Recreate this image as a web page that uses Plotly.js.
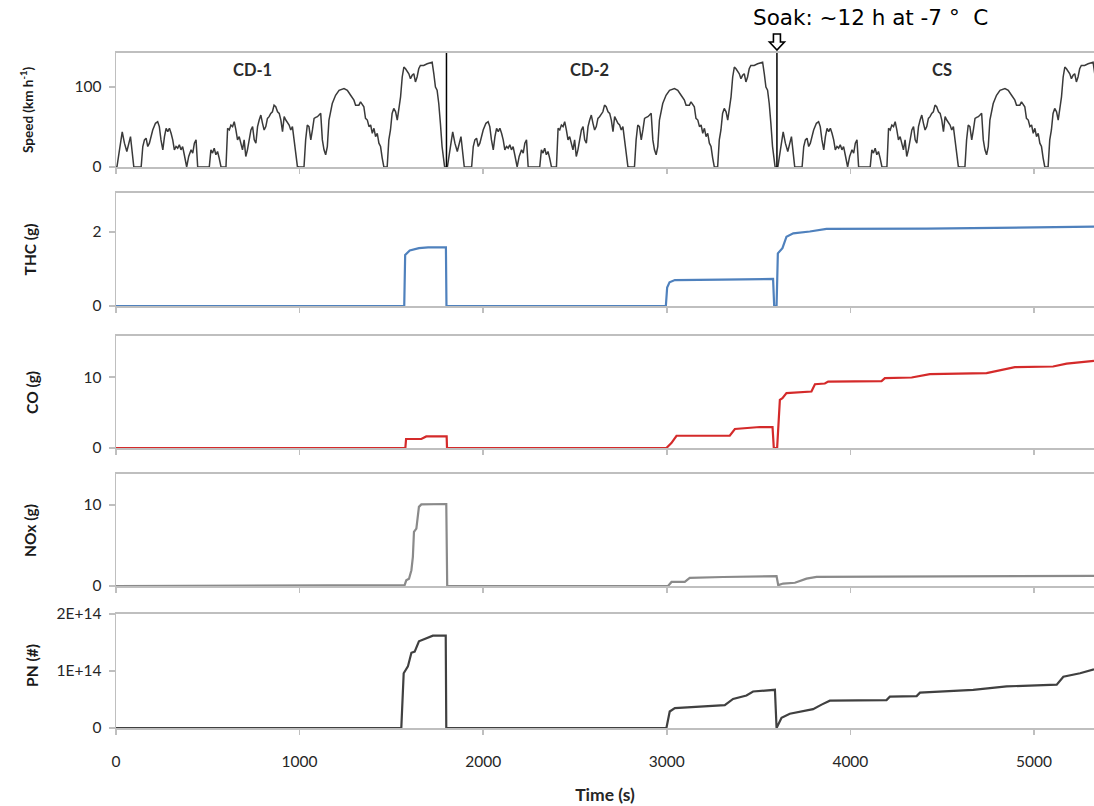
<!DOCTYPE html>
<html>
<head>
<meta charset="utf-8">
<script src="https://cdn.plot.ly/plotly-3.0.1.min.js"></script>
<style>html,body{margin:0;padding:0;background:#fff;}#chart{width:1094px;height:806px;}</style>
</head>
<body>
<div id="chart"></div>
<script>
// ---- Speed: one drive cycle (s, km/h), repeated for CD-1, CD-2, CS ----
const cycleTime = [0,5,19,34,46,59,79,97,137,146,155,164,173,182,200,215,227,236,245,255,264,273,282,291,300,309,318,327,336,345,354,363,372,385,396,409,418,427,436,445,508,517,526,535,544,553,562,572,599,608,617,626,635,644,653,662,671,680,689,698,707,716,726,735,744,753,762,771,780,789,798,807,816,825,834,843,852,861,870,880,889,898,907,916,925,934,943,952,961,970,979,988,997,1024,1033,1042,1051,1061,1070,1079,1088,1097,1106,1115,1124,1133,1142,1151,1160,1178,1196,1215,1242,1260,1278,1296,1305,1323,1332,1350,1359,1369,1378,1387,1396,1405,1414,1423,1432,1441,1450,1459,1477,1486,1495,1504,1513,1523,1532,1541,1550,1559,1568,1577,1586,1595,1604,1613,1622,1631,1640,1649,1658,1676,1695,1713,1722,1731,1740,1749,1758,1767,1776,1790,1800];
const cycleSpeed = [0,0,21.5,44,29.8,19.4,38,0,0,25.6,33.9,36,25.6,29.8,46.3,54.6,56.7,50.5,33.9,21.5,38,48.4,44.3,48.4,42.2,33.9,21.5,25.6,23.6,27.7,21.5,25.6,15.3,0,13.2,21.5,17.4,29.8,33.9,0,0,21.5,17.4,23.6,15.3,19.4,11.2,0,0,48.4,46.3,52.5,50.5,56.7,46.3,33.9,38,29.8,21.5,33.9,13.2,21.5,38,46.3,50.5,33.9,29.8,50.5,58.7,64.9,54.6,46.3,50.5,60.8,62.9,67,69,77.3,75.3,69,67,58.7,44.3,62.9,58.7,54.6,52.5,46.3,50.5,33.9,17.4,0.8,0,0,33.9,52.5,50.5,33.9,46.3,60.8,62,62.9,64.9,67,33.9,21.5,15.3,25.6,58.7,79.4,89.7,95.9,98,95.9,89.7,83.5,77.3,77.3,81.5,75.3,60.8,58.7,50.5,52.5,42.2,48.4,38,42.2,29.8,25.6,11.2,0,0,33.9,46.3,67,73.2,69,58.7,75.3,87.7,112.5,124.9,122.8,118.7,116.6,110.4,114.6,116.6,106.3,112.5,122.8,127,127,129,129.9,131,116.6,100,95.9,79.4,54.6,25.6,0,0];
const cycleStarts = [0, 1800, 3600];      // CD-1, CD-2, CS
const phaseNames = ["CD-1", "CD-2", "CS"];

// ---- THC (g) ----
const thcTime = [0,1570,1575,1600,1650,1700,1797,1800,2995,3002,3015,3044,3300,3571,3579,3585,3598,3605,3630,3652,3689,3779,3870,4415,5260,5327];
const thcVal  = [0,0,1.38,1.50,1.56,1.58,1.58,0,0,0.50,0.64,0.70,0.71,0.73,0.73,0,0,1.42,1.56,1.87,1.96,2.01,2.08,2.09,2.14,2.14];

// ---- CO (g) ----
const coTime = [0,1576,1580,1663,1690,1801,1803,2998,3025,3053,3343,3371,3507,3576,3583,3601,3616,3630,3652,3788,3807,3861,3879,4170,4188,4334,4433,4742,4896,5104,5178,5260,5327];
const coVal  = [0,0,1.27,1.27,1.63,1.63,0,0,0.7,1.73,1.75,2.68,2.96,2.96,0,0,6.8,7.04,7.75,7.97,9.0,9.1,9.38,9.45,9.86,9.95,10.42,10.56,11.4,11.5,11.9,12.15,12.3];

// ---- NOx (g) ----
const noxTime = [0,1572,1581,1596,1609,1617,1623,1636,1650,1663,1799,1804,3007,3026,3098,3125,3307,3598,3607,3634,3698,3761,3816,4306,4900,5327];
const noxVal  = [0,0.1,0.7,0.9,1.94,3.58,6.67,7.08,9.75,10.05,10.1,0,0,0.5,0.5,0.99,1.11,1.2,0.1,0.3,0.4,0.91,1.12,1.15,1.2,1.25];

// ---- PN (#) ----
const pnTime = [0,1554,1567,1590,1609,1627,1650,1690,1726,1796,1799,2998,3016,3044,3316,3361,3434,3470,3589,3598,3625,3670,3797,3843,3888,4197,4215,4361,4379,4669,4851,5124,5160,5251,5327];
const pnVal  = [0,0,0.96e14,1.08e14,1.32e14,1.34e14,1.52e14,1.58e14,1.62e14,1.62e14,0,0,0.29e14,0.35e14,0.40e14,0.51e14,0.57e14,0.64e14,0.67e14,0,0.18e14,0.25e14,0.33e14,0.41e14,0.48e14,0.49e14,0.55e14,0.56e14,0.62e14,0.67e14,0.73e14,0.76e14,0.90e14,0.96e14,1.03e14];

// ---- axis ticks ----
const xTickVals = [0,1000,2000,3000,4000,5000];
const speedTicks = [0,100];
const thcTicks = [0,2];
const coTicks = [0,10];
const noxTicks = [0,10];
const pnTicks = [0,1e14,2e14];
const pnTickText = ["0","1E+14","2E+14"];

// build speed series from the repeated cycle
const speedTime = [], speedVal = [];
cycleStarts.forEach(s => {
  cycleTime.forEach((t, i) => { speedTime.push(s + t); speedVal.push(cycleSpeed[i]); });
});

const TICKFONT = {family: "Lato, 'Open Sans', sans-serif", size: 15.5, color: "#262626"};
const XRANGE = [0, 5327];

const traces = [
  {x: speedTime, y: speedVal, xaxis: "x", yaxis: "y", mode: "lines", line: {color: "#3a3a3a", width: 1.5}},
  {x: thcTime, y: thcVal, xaxis: "x2", yaxis: "y2", mode: "lines", line: {color: "#4f81bd", width: 2.2}},
  {x: coTime, y: coVal, xaxis: "x3", yaxis: "y3", mode: "lines", line: {color: "#d42a2a", width: 2.2}},
  {x: noxTime, y: noxVal, xaxis: "x4", yaxis: "y4", mode: "lines", line: {color: "#8a8a8a", width: 2.2}},
  {x: pnTime, y: pnVal, xaxis: "x5", yaxis: "y5", mode: "lines", line: {color: "#404040", width: 2.2}}
];

function xax(anchor, showLabels) {
  return {
    anchor: anchor, range: XRANGE, showgrid: false, zeroline: false,
    showline: true, linecolor: "#bfbfbf", linewidth: 2, mirror: true,
    ticks: "outside", ticklen: 5, tickcolor: "#bfbfbf", tickwidth: 1.5,
    tickvals: xTickVals, showticklabels: showLabels, tickfont: TICKFONT
  };
}
function yax(anchor, domain, range, tv, tt) {
  const a = {
    anchor: anchor, domain: domain, range: range, showgrid: false, zeroline: false,
    showline: true, linecolor: "#bfbfbf", linewidth: 1.5,
    ticks: "outside", ticklen: 6, tickcolor: "#bfbfbf", tickwidth: 1.5,
    tickvals: tv, tickfont: TICKFONT, ticklabelstandoff: 4
  };
  if (tt) a.ticktext = tt;
  return a;
}

const layout = {
  width: 1094, height: 806,
  margin: {l: 116, r: 0, t: 53, b: 78},
  paper_bgcolor: "#fff", plot_bgcolor: "#fff",
  showlegend: false,
  xaxis: xax("y", false),
  xaxis2: Object.assign(xax("y2", false), {matches: "x"}),
  xaxis3: Object.assign(xax("y3", false), {matches: "x"}),
  xaxis4: Object.assign(xax("y4", false), {matches: "x"}),
  xaxis5: Object.assign(xax("y5", true), {matches: "x", ticklabelstandoff: 13,
    title: {text: "<b>Time (s)</b>", font: {family: "Lato, sans-serif", size: 17.5, color: "#262626"}, standoff: 20}}),
  yaxis:  yax("x",  [0.8311, 1], [0, 142.5], speedTicks),
  yaxis2: yax("x2", [0.6252, 0.7926], [0, 3.05], thcTicks),
  yaxis3: yax("x3", [0.4148, 0.5807], [0, 15.8], coTicks),
  yaxis4: yax("x4", [0.2104, 0.3763], [0, 13.8], noxTicks),
  yaxis5: yax("x5", [0, 0.1689], [0, 2e14], pnTicks, pnTickText),
  shapes: cycleStarts.slice(1).map(s => ({
    type: "line", xref: "x", yref: "y domain", x0: s, x1: s, y0: 0, y1: 1,
    line: {color: "#000", width: 1.5}
  })),
  annotations: []
};

// hollow down-arrow marking the soak, drawn in pixels above the CS start
layout.shapes.push({
  type: "path", xref: "x", yref: "paper",
  xsizemode: "pixel", ysizemode: "pixel",
  xanchor: cycleStarts[2], yanchor: 1.0163,
  path: "M 0 -8 L -7.5 0 L -3.5 0 L -3.5 8 L 3.5 8 L 3.5 0 L 7.5 0 Z",
  line: {color: "#000", width: 1.6}, fillcolor: "#fff"
});

// phase labels
const phaseLabelX = [744, 2580, 4499];
phaseNames.forEach((n, i) => layout.annotations.push({
  text: "<b>" + n + "</b>", xref: "x", yref: "paper", x: phaseLabelX[i], y: 0.9748,
  xanchor: "center", yanchor: "middle",
  showarrow: false, font: {family: "Lato, sans-serif", size: 16.5, color: "#2b2b2b"}
}));

// y-axis titles
const yTitles = ["<b>Speed (km h<sup>-1</sup>)</b>", "<b>THC (g)</b>", "<b>CO (g)</b>", "<b>NOx (g)</b>", "<b>PN (#)</b>"];
const yTitleSizes = [13.5, 15.5, 15.5, 15.5, 15.5];
const yTitleX = [-0.091, -0.087, -0.086, -0.088, -0.086];
const yTitleY = [0.9156, 0.7089, 0.4978, 0.2934, 0.0933];
yTitles.forEach((t, i) => layout.annotations.push({
  text: t, xref: "paper", yref: "paper", x: yTitleX[i], y: yTitleY[i],
  xanchor: "center", yanchor: "middle", textangle: -90, showarrow: false,
  font: {family: "Lato, sans-serif", size: yTitleSizes[i], color: "#1a1a1a"}
}));

// soak note
layout.annotations.push({
  text: "Soak: ~12 h at -7 °  C", xref: "paper", yref: "paper", x: 0.771, y: 1.053,
  xanchor: "center", yanchor: "middle", showarrow: false,
  font: {family: "'DejaVu Sans', sans-serif", size: 21.5, color: "#000"}
});

Plotly.newPlot("chart", traces, layout, {staticPlot: true, displayModeBar: false});
</script>
</body>
</html>
